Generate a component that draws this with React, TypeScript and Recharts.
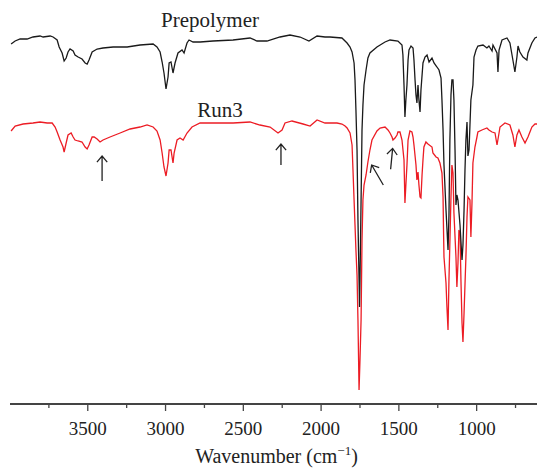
import React from 'react';
import { LineChart, Line, XAxis, YAxis, ReferenceLine, ReferenceDot, Label } from 'recharts';

// Prepolymer spectrum (wavenumber cm^-1, relative transmittance)
const prepolymerWavenumber = [3993,3967,3935,3890,3852,3807,3787,3742,3723,3697,3684,3665,3652,3639,3627,3614,3594,3582,3562,3537,3517,3504,3492,3472,3440,3402,3337,3247,3164,3080,3055,3035,3022,3010,2997,2984,2977,2965,2952,2939,2920,2894,2881,2862,2849,2823,2778,2695,2566,2457,2412,2348,2264,2200,2135,2078,2026,1975,1943,1866,1833,1814,1801,1788,1782,1776,1769,1763,1756,1753,1750,1743,1737,1731,1724,1711,1699,1686,1641,1589,1557,1506,1480,1474,1467,1461,1455,1448,1441,1435,1422,1409,1403,1396,1390,1384,1377,1371,1364,1358,1345,1332,1319,1306,1287,1274,1255,1242,1229,1223,1216,1210,1197,1184,1178,1172,1165,1159,1152,1146,1139,1133,1127,1120,1107,1094,1088,1081,1075,1069,1062,1056,1049,1043,1037,1024,1017,1004,992,959,934,921,901,895,869,863,856,837,805,786,767,754,741,734,722,702,677,670,645,625,612];
const prepolymerT = [90,90.75,91.25,91.25,91.75,92,91.75,92,91.75,91,89.25,87.75,85.75,86.5,88,88.75,88.25,87.25,86.75,86.25,85.25,85,86,88,88.75,89,89.25,89.25,89.75,90,89.25,88,85.5,82.75,78.75,81.75,85.25,85.5,82.75,85.25,87.75,88.5,87.75,90.25,91,90.5,90.5,90.75,91,91.5,90.75,90.75,91.75,92.25,91.75,90.75,92,91.75,91.75,91.5,90.25,89.25,88,85.25,81,73.5,63.5,46,31,24.25,31,51,68.5,74.75,79.75,83.5,86.5,87.75,89.25,90.5,91,90.75,89.75,87.25,79.75,71.75,76,79.75,86,88.5,89.5,89,86,81,77.25,75.25,79.75,76,73,78.5,85.25,86.75,87.25,85.5,86.5,85.25,84.25,83.5,81.5,76,68.5,59.75,48.5,38.5,47.25,66,77.25,81,81,76,63.5,49.75,52.25,51,44.75,36,39.75,48.5,58.5,66,70.5,62,63.5,69.75,76,79.75,86.75,88.5,89.5,89.75,89,89.5,88.25,89.75,87.75,83,88.5,91,91.5,90.25,86,83,86.75,89.5,88,86.75,86,87.75,90.25,91.5,91.75];

// Run3 spectrum
const run3Wavenumber = [3993,3967,3916,3852,3807,3761,3729,3710,3697,3678,3659,3652,3639,3627,3607,3594,3582,3562,3537,3517,3504,3492,3472,3459,3440,3421,3402,3357,3292,3228,3164,3119,3080,3055,3035,3022,3010,2997,2984,2977,2965,2952,2945,2926,2907,2887,2862,2830,2778,2669,2566,2457,2393,2328,2277,2251,2232,2187,2116,2071,2026,1975,1898,1866,1846,1833,1814,1801,1795,1788,1782,1776,1769,1763,1759,1756,1750,1743,1740,1737,1731,1724,1711,1699,1686,1673,1641,1621,1589,1570,1557,1544,1538,1525,1512,1506,1493,1480,1467,1461,1455,1448,1441,1429,1416,1409,1403,1390,1384,1377,1371,1364,1358,1351,1345,1339,1326,1313,1287,1281,1261,1249,1236,1223,1216,1213,1210,1197,1191,1184,1178,1165,1159,1152,1146,1133,1127,1120,1114,1107,1101,1094,1088,1081,1069,1062,1056,1043,1037,1030,1024,1011,998,992,966,934,921,901,882,869,856,850,818,786,767,754,741,728,709,689,670,645,625,612];
const run3T = [68.25,69.5,70,70.25,70.5,70.25,70.25,69.25,68,66,64.25,63,65.25,67.25,67.75,66.75,66,65.75,65.5,64.25,63.75,64.75,66.75,66.75,66.25,65.5,66,66.75,67.75,68.75,69.25,69.75,69.25,68.25,66,62.75,59.25,57,60.25,63.5,63.5,60.25,62.75,66,66.5,66,67.75,69.25,70.25,70.25,70.25,70.5,69.75,69.25,67.75,68.5,70.25,70.75,70,69.5,71,70.25,70.25,70,69.5,69,67.75,64.75,58.5,51,44.75,38.5,32.25,21,11,3.5,11,21,31,41,51,54.75,57.25,60.5,63.5,66,68.25,69,69.25,68.5,67.75,66.75,66,66.5,67.25,68,68,66,61,50.25,54.75,59.75,66,68.25,68,66.75,64.75,59.75,56,58,54.75,51.75,51.5,57.25,61,64.25,65.5,65,64.25,62.75,61.75,61.5,60.25,57.75,51.75,43.5,36.75,30.25,24.25,18.5,31,51.75,59.75,57.75,47.75,36.75,29.25,35.25,43.5,42.75,31,20.25,15.5,22.75,36.75,46.75,51.75,51,41.75,50.25,60.25,64.25,66.75,68,68.5,69,68.5,68,67.75,64.75,67.75,69.25,70.25,69.75,67.25,64.25,67.25,68.5,66.75,65.25,66.75,69.25,70,70];

const axisTicks = [3750,3500,3250,3000,2750,2500,2250,2000,1750,1500,1250,1000,750];
const majorTickLabels = [3500,3000,2500,2000,1500,1000];

const seriesLabels = [
  { text: 'Prepolymer', w: 2714, v: 94.25 },
  { text: 'Run3', w: 2650, v: 71.75 },
];

// arrows: tail -> head
const arrows = [
  { w1: 3408, v1: 55.75, w2: 3408, v2: 62 },
  { w1: 2258, v1: 59.75, w2: 2258, v2: 65 },
  { w1: 1600, v1: 54.75, w2: 1675, v2: 59.75 },
  { w1: 1553, v1: 58.7, w2: 1540, v2: 63.9 },
];

const prepolymerData = prepolymerWavenumber.map((w, i) => ({ w, v: prepolymerT[i] }));
const run3Data = run3Wavenumber.map((w, i) => ({ w, v: run3T[i] }));

const FONT = '"Liberation Serif", "DejaVu Serif", serif';

const CustomTick = (props: any) => {
  const { x, y, payload } = props;
  const major = majorTickLabels.includes(payload.value);
  return (
    <g>
      <line x1={x} y1={y} x2={x} y2={y + (major ? 7 : 4)} stroke="#444" strokeWidth={1.3} />
      {major && (
        <text x={x} y={y + 31} textAnchor="middle" fontFamily={FONT} fontSize={19} fill="#222">
          {payload.value}
        </text>
      )}
    </g>
  );
};

const ArrowShape = (props: any) => {
  const { x1, y1, x2, y2 } = props;
  const ang = Math.atan2(y2 - y1, x2 - x1);
  const L = 8;
  const a = (40 * Math.PI) / 180;
  const ax1 = x2 - L * Math.cos(ang - a);
  const ay1 = y2 - L * Math.sin(ang - a);
  const ax2 = x2 - L * Math.cos(ang + a);
  const ay2 = y2 - L * Math.sin(ang + a);
  return (
    <g>
      <path
        d={`M${x1},${y1}L${x2},${y2}M${ax1},${ay1}L${x2},${y2}L${ax2},${ay2}`}
        stroke="#222"
        strokeWidth={1.3}
        fill="none"
      />
    </g>
  );
};

const XLabel = (props: any) => {
  const vb = props.viewBox || { x: 10, y: 404, width: 527, height: 66 };
  const cx = vb.x + vb.width / 2 + 3;
  return (
    <text x={cx} y={vb.y + 59} textAnchor="middle" fontFamily={FONT} fontSize={20} fill="#222">
      Wavenumber (cm
      <tspan dy={-8} fontSize={13}>−1</tspan>
      <tspan dy={8}>)</tspan>
    </text>
  );
};

export default function App() {
  return (
    <div style={{ position: 'absolute', left: 0, top: 0, width: 537, height: 470, background: '#fff' }}>
      <LineChart width={537} height={470} margin={{ top: 4, right: 0, left: 10, bottom: 0 }}>
        <XAxis
          type="number"
          dataKey="w"
          domain={[612, 4000]}
          reversed
          allowDataOverflow
          ticks={axisTicks}
          interval={0}
          tick={<CustomTick />}
          tickLine={false}
          tickSize={0}
          tickMargin={0}
          height={66}
          axisLine={{ stroke: '#444', strokeWidth: 2 }}
        >
          <Label content={<XLabel />} />
        </XAxis>
        <YAxis hide type="number" domain={[0, 100]} allowDataOverflow />
        <Line data={run3Data} dataKey="v" type="linear" stroke="#ec1c24" strokeWidth={1.3} dot={false} isAnimationActive={false} />
        <Line data={prepolymerData} dataKey="v" type="linear" stroke="#1a1a1a" strokeWidth={1.3} dot={false} isAnimationActive={false} />
        {arrows.map((a, i) => (
          <ReferenceLine
            key={i}
            segment={[{ x: a.w1, y: a.v1 }, { x: a.w2, y: a.v2 }]}
            shape={ArrowShape}
          />
        ))}
        {seriesLabels.map((s, i) => (
          <ReferenceDot
            key={i}
            x={s.w}
            y={s.v}
            r={0}
            shape={(p: any) => (
              <text x={p.cx} y={p.cy} textAnchor="middle" fontFamily={FONT} fontSize={21} fill="#222">
                {s.text}
              </text>
            )}
          />
        ))}
      </LineChart>
    </div>
  );
}
